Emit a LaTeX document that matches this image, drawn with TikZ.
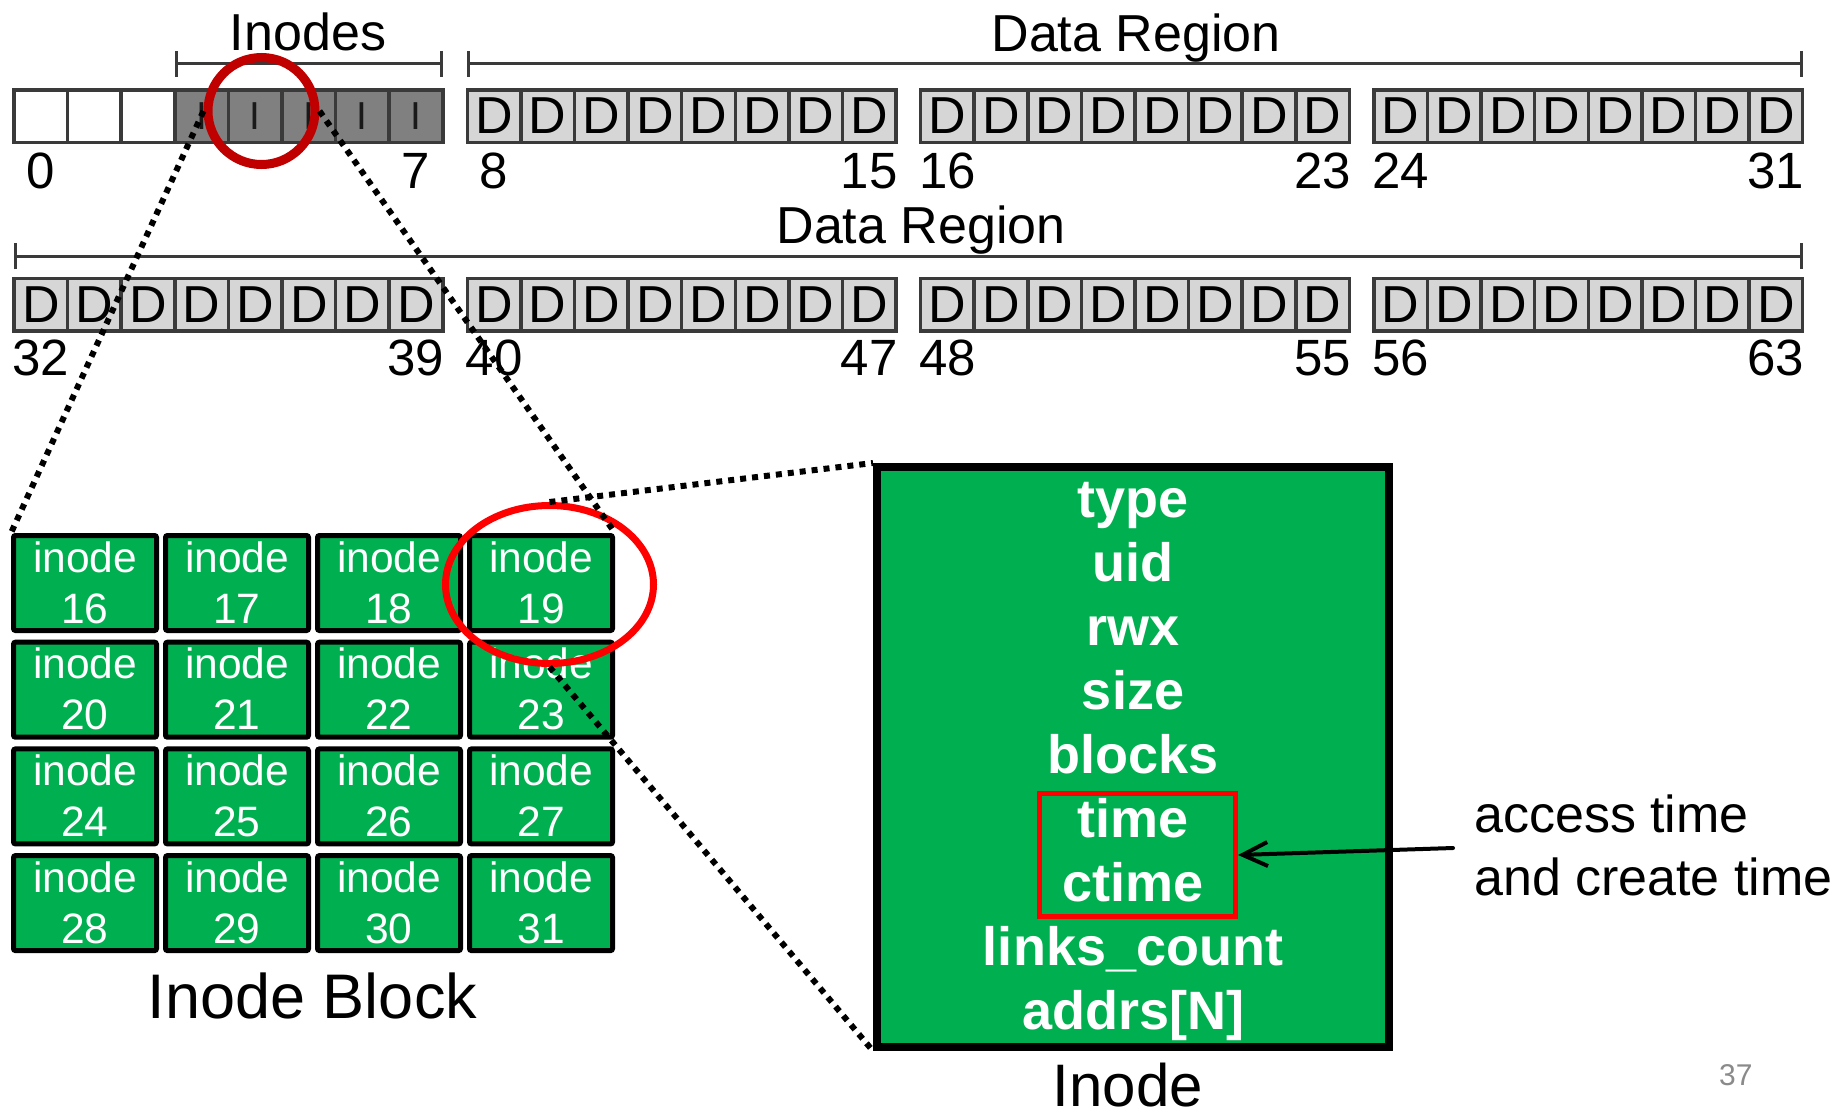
\documentclass[tikz,border=0pt]{standalone}
\usepackage{fontspec}
\setmainfont{Liberation Sans}
\usetikzlibrary{arrows.meta,shapes.geometric,calc}

\definecolor{inodegreen}{HTML}{00B050}
\definecolor{diskred}{HTML}{C00000}
\definecolor{selred}{HTML}{FF0000}
\definecolor{blkedge}{HTML}{3A3A3A}
\definecolor{inodegray}{HTML}{808080}
\definecolor{datagray}{HTML}{D6D6D6}
\definecolor{pagegray}{HTML}{8A8A8A}

\newcommand{\fsz}[1]{\fontsize{#1}{#1}\selectfont}

\begin{document}
\begin{tikzpicture}[x=1pt,y=-1pt,
  blk/.style={draw=blkedge, line width=3.5pt, minimum width=53.6pt,
    minimum height=52.5pt, inner sep=0pt, outer sep=0pt},
  freeblk/.style={blk, fill=white},
  inoblk/.style={blk, fill=inodegray, text=black!90, font=\fsz{39}},
  datablk/.style={blk, fill=datagray, text=black, font=\fsz{52}},
  blknum/.style={anchor=base, inner sep=0pt, font=\fsz{51}},
  region/.style={anchor=base, inner sep=0pt, font=\fsz{52}},
  bracket/.style={draw=blkedge, line width=3pt,
    {Bar[width=26pt]}-{Bar[width=26pt]}},
  cell/.style={draw=black, line width=5pt, fill=inodegreen,
    minimum width=143pt, minimum height=95pt, inner sep=0pt,
    rounded corners=2pt},
  celltxt/.style={anchor=base, inner sep=0pt, text=white, font=\fsz{42.5}},
  field/.style={anchor=base, inner sep=0pt, text=white,
    font=\bfseries\fsz{54}},
  caption/.style={anchor=base, inner sep=0pt},
  dotline/.style={line width=6pt, dash pattern=on 6pt off 6pt},
]
\fill[white] (0,0) rectangle (1846,1117);
\useasboundingbox (0,0) rectangle (1846,1117);

% ---- disk layout: two rows of 32 blocks, groups of 8 ----
\foreach \r/\cy in {0/116,1/304.5} {
  \foreach \g in {0,...,3} {
    \foreach \k in {0,...,7} {
      \pgfmathtruncatemacro\n{\r*32+\g*8+\k}
      \pgfmathsetmacro\cx{14+\g*453.3+(\k+0.5)*53.6}
      \ifnum\n<3
        \node[freeblk] (b\n) at (\cx,\cy) {};
      \else\ifnum\n<8
        \node[inoblk] (b\n) at (\cx,\cy) {I};
      \else
        \node[datablk] (b\n) at (\cx,\cy) {D};
      \fi\fi
    }
  }
}

% block numbers under the first and last block of each group
\foreach \r/\by in {0/188,1/375} {
  \foreach \g in {0,...,3} {
    \pgfmathtruncatemacro\na{\r*32+\g*8}
    \pgfmathtruncatemacro\nb{\r*32+\g*8+7}
    \pgfmathsetmacro\xa{14+\g*453.3+0.5*53.6}
    \pgfmathsetmacro\xb{14+\g*453.3+7.5*53.6}
    \node[blknum] (n\na) at (\xa,\by) {\na};
    \node[blknum] (n\nb) at (\xb,\by) {\nb};
  }
}

% region brackets and their labels
\draw[bracket] ([yshift=26pt]b3.north west) -- ([yshift=26pt]b7.north east);
\draw[bracket] ([yshift=26pt]b8.north west) -- ([yshift=26pt]b31.north east);
\draw[bracket] ([yshift=22pt]b32.north west) -- ([yshift=22pt]b63.north east);
\node[region] (lblinodes) at (308,50) {Inodes};
\node[region] (lbldata) at (1136,51) {Data Region};
\node[region] (lbldatab) at (921,243) {Data Region};

% highlighted inode block on disk
\node[circle, draw=diskred, line width=9pt, minimum size=107pt,
  inner sep=0pt] (pick) at (261.5,111) {};

% ---- one inode block: 4 x 4 inodes ----
\foreach \row in {0,...,3} {
  \foreach \col in {0,...,3} {
    \pgfmathtruncatemacro\id{16+4*\row+\col}
    \pgfmathsetmacro\cx{85+152*\col}
    \pgfmathsetmacro\cy{583+106.7*\row}
    \node[cell] (c\id) at (\cx,\cy) {};
    \node[celltxt] (ct\id) at (\cx,\cy-11) {inode};
    \node[celltxt] (cn\id) at (\cx,\cy+40) {\id};
  }
}
\node[caption, font=\fsz{63}] (blocklbl) at (312.5,1018) {Inode Block};

% selected inode
\node[ellipse, draw=selred, line width=7pt, minimum width=208pt,
  minimum height=158pt, inner sep=0pt] (sel) at (549.5,584.5) {};

% ---- inode structure ----
\node[draw=black, line width=8pt, fill=inodegreen, minimum width=512pt,
  minimum height=580pt, inner sep=0pt] (inode) at (1133,757) {};
\foreach \t [count=\i from 0] in {type,uid,rwx,size,blocks,time,ctime,links\_count,addrs[N]} {
  \node[field] (f\i) at (1133,517+64*\i) {\t};
}
\node[draw=selred, line width=5pt, minimum width=196pt, minimum height=123pt,
  inner sep=0pt] (tsel) at (1137.5,855) {};
\node[caption, font=\fsz{60}] (inodelbl) at (1128,1106) {Inode};

% annotation for the time fields
\node[caption, anchor=base west, font=\fsz{52}] (note1) at (1474,832) {access time};
\node[caption, anchor=base west, font=\fsz{52}] (note2) at (1474,895) {and create time};
\coordinate (noteend) at (1453,848);
\draw[line width=4pt, line cap=round,
  -{Straight Barb[length=25pt,width=24pt]}] (noteend) -- (tsel.east);

% page number
\node[caption, anchor=base west, font=\fsz{30}, text=pagegray] (pgnum) at (1719,1085) {37};

% zoom guides
\draw[dotline] (pick.west) -- (c16.north west);
\draw[dotline] (pick.east) -- (c19.north east);
\draw[dotline] (sel.north) -- (inode.north west);
\draw[dotline] (sel.south) -- (inode.south west);
\end{tikzpicture}
\end{document}
